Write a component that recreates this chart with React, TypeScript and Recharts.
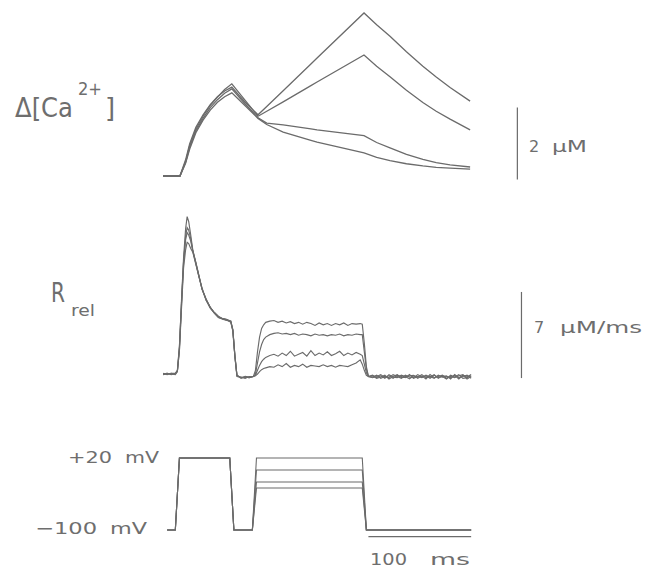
import React from "react";
import { LineChart, Line, XAxis, YAxis, ReferenceLine } from "recharts";

// time in ms, Ca in µM
const CA_T = [0, 16.5, 22, 26, 32, 39, 46, 53, 60, 67, 80, 92.5, 101, 117, 144, 150, 195.7, 208, 221, 237, 253, 266, 279.5, 299];
const CA_A = [0, 0, 0.45, 0.9, 1.35, 1.7, 1.98, 2.2, 2.36, 2.47, 2.05, 1.7, 1.93, 2.37, 3.11, 3.28, 4.53, 4.2, 3.88, 3.45, 3.05, 2.75, 2.46, 2.08];
const CA_B = [0, 0, 0.4, 0.85, 1.3, 1.66, 1.96, 2.19, 2.4, 2.56, 2.1, 1.66, 1.8, 2.06, 2.51, 2.61, 3.36, 3.05, 2.76, 2.38, 2.04, 1.8, 1.58, 1.28];
const CA_C = [0, 0, 0.38, 0.8, 1.25, 1.6, 1.9, 2.12, 2.3, 2.42, 2.0, 1.62, 1.47, 1.42, 1.31, 1.28, 1.12, 0.93, 0.78, 0.6, 0.46, 0.37, 0.31, 0.25];
const CA_D = [0, 0, 0.35, 0.75, 1.2, 1.55, 1.83, 2.05, 2.2, 2.31, 1.95, 1.6, 1.43, 1.22, 0.99, 0.94, 0.64, 0.52, 0.43, 0.34, 0.28, 0.24, 0.22, 0.19];

// release rate, µM/ms
const R_T = [
  0, 4, 8, 12, 14, 16, 18, 20, 22, 23.5, 25, 27, 29, 32, 35, 38, 42, 46, 50, 54, 58, 62, 66, 68, 70, 72, 76, 80, 84,
  88, 90, 92, 94, 96, 98, 100, 104, 108, 112, 116, 120, 124, 128, 132, 136, 140, 144, 148, 152, 156, 160, 164, 168,
  172, 176, 180, 184, 188, 192, 194, 196, 198, 200,
  204, 208, 212, 216, 220, 224, 228, 232, 236, 240, 244, 248, 252, 256, 260, 264, 268, 272, 276, 280, 284, 288, 292, 296, 300,
];
const R_A = [
  0, 0.05, -0.05, 0.05, 0.25, 2.2, 6.0, 9.4, 11.8, 12.8, 12.4, 11.3, 10.1, 9.0, 8.0, 6.9, 6.1, 5.4, 5.0, 4.65, 4.5, 4.4, 4.25, 3.6, 1.5, -0.1, -0.3, -0.25, -0.3,
  -0.2, 0.3, 1.8, 3.0, 3.7, 4.0, 4.2, 4.3, 4.35, 4.2, 4.3, 4.15, 4.25, 4.1, 4.2, 4.05, 4.2, 4.1, 3.95, 4.15, 4.0, 4.1, 3.95, 4.1,
  4.0, 4.15, 3.95, 4.1, 4.05, 4.1, 4.05, 2.5, 0.6, -0.2,
  -0.1, -0.3, -0.15, -0.35, -0.05, -0.25, -0.3, -0.1, -0.2, -0.4, -0.15, -0.25, -0.05, -0.3, -0.2, -0.35, -0.1, -0.25, -0.15, -0.4, -0.05, -0.3, -0.2, -0.1, -0.35,
];
const R_B = [
  0.05, -0.05, 0.05, 0.0, 0.2, 2.0, 5.6, 9.0, 11.2, 11.9, 11.7, 11.0, 10.0, 9.0, 7.9, 7.0, 6.0, 5.45, 4.95, 4.6, 4.45, 4.35, 4.3, 3.5, 1.4, -0.2, -0.25, -0.35, -0.2,
  -0.2, 0.0, 0.9, 1.8, 2.4, 2.8, 3.0, 3.2, 3.3, 3.35, 3.25, 3.3, 3.2, 3.3, 3.15, 3.25, 3.2, 3.1, 3.25, 3.15, 3.2, 3.1, 3.2, 3.15,
  3.25, 3.1, 3.2, 3.15, 3.25, 3.2, 3.2, 1.8, 0.4, -0.2,
  -0.25, -0.1, -0.35, -0.2, -0.3, -0.05, -0.2, -0.35, -0.1, -0.25, -0.3, -0.05, -0.25, -0.15, -0.35, -0.1, -0.3, -0.2, -0.4, -0.1, -0.25, -0.05, -0.35, -0.3, -0.15,
];
const R_C = [
  -0.05, 0.0, 0.05, 0.05, 0.3, 2.3, 5.8, 9.1, 10.9, 11.5, 11.3, 10.8, 10.0, 9.1, 8.0, 6.9, 6.05, 5.4, 5.0, 4.7, 4.5, 4.45, 4.3, 3.6, 1.5, -0.15, -0.3, -0.25, -0.3,
  -0.2, -0.1, 0.3, 0.7, 1.0, 1.2, 1.35, 1.5, 1.6, 1.45, 1.7, 1.5, 1.85, 1.45, 1.6, 1.75, 1.45, 1.9, 1.5, 1.7, 1.55, 1.8, 1.5, 1.65,
  1.85, 1.5, 1.7, 1.55, 1.75, 1.6, 1.5, 0.8, 0.1, -0.2,
  -0.3, -0.2, -0.05, -0.3, -0.15, -0.35, -0.1, -0.2, -0.3, -0.05, -0.35, -0.2, -0.3, -0.1, -0.25, -0.05, -0.35, -0.15, -0.2, -0.3, -0.1, -0.4, -0.1, -0.25, -0.05,
];
const R_D = [
  0.0, 0.05, 0.0, -0.05, 0.2, 1.9, 5.3, 8.6, 10.1, 10.7, 10.6, 10.2, 9.9, 8.9, 7.9, 6.9, 6.0, 5.35, 4.95, 4.6, 4.5, 4.4, 4.2, 3.5, 1.4, -0.1, -0.35, -0.2, -0.25,
  -0.2, -0.15, 0.0, 0.2, 0.35, 0.45, 0.5, 0.6, 0.55, 0.75, 0.6, 0.85, 0.55, 0.7, 0.6, 0.8, 0.55, 0.7, 0.65, 0.6, 0.75, 0.6, 0.7, 0.55,
  0.7, 0.65, 0.6, 0.75, 0.9, 1.15, 0.8, 0.3, -0.1, -0.2,
  -0.15, -0.35, -0.25, -0.1, -0.4, -0.2, -0.05, -0.3, -0.25, -0.15, -0.1, -0.35, -0.15, -0.4, -0.05, -0.3, -0.2, -0.1, -0.35, -0.2, -0.3, -0.15, -0.05, -0.4, -0.2,
];

// voltage protocol, mV
const V_T = [4, 12, 16, 65, 69, 87, 91, 194, 198, 300];
const V_LEVELS = [20, 0, -20, -30];

const STROKE = "#6b6b6b";
const FONT = "'DejaVu Sans', sans-serif";

const pts = (t: number[], v: number[]) => t.map((x, i) => ({ t: x, v: v[i] }));
const pulse = (lvl: number) => [-100, -100, 20, 20, -100, -100, lvl, lvl, -100, -100];

const W = 645;
const H = 569;
const X_DOMAIN: [number, number] = [0, 350];
const LEFT = 163;
const RIGHT = 122.5;

const layer: React.CSSProperties = { position: "absolute", left: 0, top: 0 };

function Panel({
  series,
  domain,
  top,
  bottom,
  children,
  width = 1.3,
}: {
  series: { t: number; v: number }[][];
  domain: [number, number];
  top: number;
  bottom: number;
  children?: React.ReactNode;
  width?: number;
}) {
  return (
    <div style={layer}>
      <LineChart width={W} height={H} margin={{ top, bottom, left: LEFT, right: RIGHT }}>
        <XAxis dataKey="t" type="number" domain={X_DOMAIN} hide allowDataOverflow />
        <YAxis type="number" domain={domain} hide allowDataOverflow />
        {series.map((d, i) => (
          <Line
            key={i}
            data={d}
            dataKey="v"
            type="linear"
            stroke={STROKE}
            strokeWidth={width}
            dot={false}
            isAnimationActive={false}
          />
        ))}
        {children}
      </LineChart>
    </div>
  );
}

// text stretched to the measured width of the original lettering
function Word({ x, y, w, size = 16, children }: { x: number; y: number; w?: number; size?: number; children: string }) {
  return (
    <text
      x={x}
      y={y}
      fontSize={size}
      fontFamily={FONT}
      fill="#6e6e6e"
      {...(w ? { textLength: w, lengthAdjust: "spacingAndGlyphs" } : {})}
    >
      {children}
    </text>
  );
}

export default function App() {
  const ca = [CA_A, CA_B, CA_C, CA_D].map((v) => pts(CA_T, v));
  const rr = [R_A, R_B, R_C, R_D].map((v) => pts(R_T, v));
  const vv = V_LEVELS.map((l) => pts(V_T, pulse(l)));

  return (
    <div style={{ position: "absolute", left: 0, top: 0, width: W, height: H, background: "#fff" }}>
      <Panel series={ca} domain={[-0.5, 4.8]} top={3.2} bottom={375}>
        <ReferenceLine
          segment={[{ x: 345, y: -0.1 }, { x: 345, y: 1.9 }]}
          stroke={STROKE}
          strokeWidth={1.2}
        />
      </Panel>
      <Panel series={rr} domain={[-1, 14]} top={201.8} bottom={182.7} width={1.15}>
        <ReferenceLine
          segment={[{ x: 349, y: -0.33 }, { x: 349, y: 6.67 }]}
          stroke={STROKE}
          strokeWidth={1.2}
        />
      </Panel>
      <Panel series={vv} domain={[-120, 30]} top={452} bottom={27} width={1.1}>
        <ReferenceLine
          segment={[{ x: 200, y: -111 }, { x: 300, y: -111 }]}
          stroke={STROKE}
          strokeWidth={1.2}
        />
      </Panel>
      <svg width={W} height={H} style={layer}>
        <Word x={15} y={117} size={26} w={58}>Δ[Ca</Word>
        <Word x={78} y={95} size={18} w={24}>2+</Word>
        <Word x={105} y={117} size={26}>]</Word>
        <Word x={51} y={302} size={27} w={14}>R</Word>
        <Word x={71} y={316} size={16} w={24}>rel</Word>
        <Word x={529} y={152} size={16}>2</Word>
        <Word x={552} y={152} size={16} w={35}>μM</Word>
        <Word x={534} y={333} size={16}>7</Word>
        <Word x={560} y={333} size={16} w={82}>μM/ms</Word>
        <Word x={68} y={463} size={16} w={44}>+20</Word>
        <Word x={125} y={463} size={16} w={34}>mV</Word>
        <Word x={35} y={534} size={16} w={62}>−100</Word>
        <Word x={110} y={534} size={16} w={37}>mV</Word>
        <Word x={370} y={565} size={16} w={37}>100</Word>
        <Word x={430} y={565} size={16} w={40}>ms</Word>
      </svg>
    </div>
  );
}
